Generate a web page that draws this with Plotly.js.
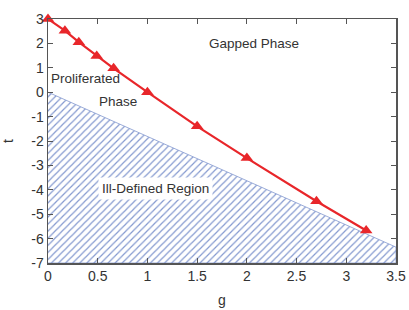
<!DOCTYPE html>
<html><head><meta charset="utf-8">
<script src="https://cdn.plot.ly/plotly-3.0.1.min.js"></script>
<style>html,body{margin:0;padding:0;background:#fff}#chart{width:409px;height:310px}</style>
</head><body><div id="chart"></div>
<script>
const gValues = [0, 0.17, 0.31, 0.49, 0.66, 1.0, 1.5, 2.0, 2.7, 3.2];
const tValues = [3.0, 2.52, 2.05, 1.48, 0.98, 0.0, -1.4, -2.7, -4.47, -5.67];
const regionG = [0, 3.5, 3.5, 0];
const regionT = [0, -6.35, -7, -7];
const xTicks = [0, 0.5, 1, 1.5, 2, 2.5, 3, 3.5];
const yTicks = [3, 2, 1, 0, -1, -2, -3, -4, -5, -6, -7];

const traces = [
  {x: regionG, y: regionT, type: 'scatter', mode: 'lines', fill: 'toself',
   line: {color: '#8398cf', width: 0.8},
   fillcolor: 'rgba(0,0,0,0)',
   fillpattern: {shape: '/', fgcolor: '#8398cf', bgcolor: 'white', size: 5, solidity: 0.24},
   hoverinfo: 'skip', showlegend: false},
  {x: gValues, y: tValues, type: 'scatter', mode: 'lines+markers',
   line: {color: '#e8262a', width: 2.2},
   marker: {symbol: 'triangle-up', size: 11, color: '#e8262a'},
   showlegend: false, cliponaxis: false}
];
const font = {family: 'Liberation Sans, Arial, sans-serif', size: 14, color: '#333'};
const lab = {family: font.family, size: 13.5, color: '#333'};
const layout = {
  width: 409, height: 310,
  margin: {l: 48, r: 13, t: 19, b: 47},
  paper_bgcolor: '#fff', plot_bgcolor: '#fff',
  font: font,
  showlegend: false,
  xaxis: {range: [0, 3.5], tickvals: xTicks, ticktext: xTicks.map(String), ticks: 'inside', ticklen: 5,
    tickcolor: '#555', showline: true, linecolor: '#555', linewidth: 1.5, mirror: 'ticks',
    showgrid: false, zeroline: false, title: {text: 'g', font: font, standoff: 12}},
  yaxis: {range: [-7, 3], tickvals: yTicks, ticktext: yTicks.map(String), ticks: 'inside', ticklen: 5,
    tickcolor: '#555', showline: true, linecolor: '#555', linewidth: 1.5, mirror: 'ticks',
    showgrid: false, zeroline: false, title: {text: 't', font: font, standoff: 14}},
  annotations: [
    {x: 2.07, y: 2.0, text: 'Gapped Phase', showarrow: false, xanchor: 'center', font: lab},
    {x: 0.38, y: 0.55, text: 'Proliferated', showarrow: false, xanchor: 'center', font: lab},
    {x: 0.7, y: -0.4, text: 'Phase', showarrow: false, xanchor: 'center', font: lab},
    {x: 1.08, y: -3.95, text: 'Ill-Defined Region', showarrow: false, xanchor: 'center', bgcolor: '#fff', borderpad: 3, font: lab}
  ]
};
Plotly.newPlot('chart', traces, layout, {staticPlot: true, displayModeBar: false});
</script></body></html>
